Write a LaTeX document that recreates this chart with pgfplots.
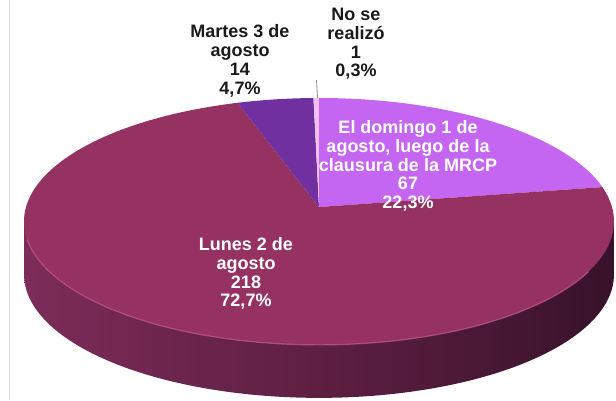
\documentclass[border=0pt]{standalone}
\usepackage{fontspec}
\setmainfont{Liberation Sans}
\usepackage{pgfplots}
\usepackage{pgfplotstable}
\pgfplotsset{compat=1.18}
\definecolor{cDom}{HTML}{C466F2}
\definecolor{cLun}{HTML}{963262}
\definecolor{cMar}{HTML}{7030A0}
\definecolor{cNo}{HTML}{F0C0F0}
\definecolor{sideL}{HTML}{7C2C58}
\definecolor{sideM}{HTML}{5E1F42}
\definecolor{sideR}{HTML}{38122A}
\definecolor{hl}{HTML}{C45C8E}
\definecolor{txt}{HTML}{1A1A1A}

\pgfplotstableread{
label value
Domingo 67
Lunes 218
Martes 14
NoSe 1
}\piedata

\begin{document}
\begin{tikzpicture}
\pgfplotstablegetelem{0}{value}\of\piedata \let\vA\pgfplotsretval
\pgfplotstablegetelem{1}{value}\of\piedata \let\vB\pgfplotsretval
\pgfplotstablegetelem{2}{value}\of\piedata \let\vC\pgfplotsretval
\pgfplotstablegetelem{3}{value}\of\piedata \let\vD\pgfplotsretval
\pgfmathsetmacro\tot{\vA+\vB+\vC+\vD}
\pgfmathsetmacro\aDom{90-360*(\vA/\tot)}
\pgfmathsetmacro\aLun{\aDom-360*(\vB/\tot)}
\pgfmathsetmacro\aMar{\aLun-360*(\vC/\tot)}
\pgfmathsetmacro\aEnd{\aMar-360*(\vD/\tot)}
% geometry (perspective ellipse)
\pgfmathsetmacro\pcx{319}
\pgfmathsetmacro\pcy{193}
\pgfmathsetmacro\pk{0.117}
\pgfmathsetmacro\pB{121.75}
\pgfmathsetmacro\pA{292.97}
\pgfmathsetmacro\pD{53}
\pgfmathsetmacro\tl{180+asin(\pk)}
\pgfmathsetmacro\tr{360-asin(\pk)}
\pgfmathsetmacro\xL{\pcx-\pA/sqrt(1-\pk*\pk)}
\pgfmathsetmacro\xR{\pcx+\pA/sqrt(1-\pk*\pk)}
\pgfmathsetmacro\yE{\pcy-\pB*\pk/(1-\pk*\pk)}
\begin{axis}[at={(0,0)}, anchor=south west, width=616pt, height=400pt,
  scale only axis, xmin=0, xmax=616, ymin=0, ymax=400, hide axis, clip=false]
% side wall
\addplot[draw=none, left color=sideL, right color=sideR, middle color=sideM,
  domain=\tl:\tr, samples=120, variable=\t]
  ({\pcx+\pA*cos(\t)/(1+\pk*sin(\t))}, {\pcy+\pB*sin(\t)/(1+\pk*sin(\t))-\pD})
  -- (axis cs:\xR,\yE) -- (axis cs:\xL,\yE) -- cycle;
% top slices
\addplot[draw=none, fill=cDom, domain=\aDom:90, samples=80, variable=\t]
  ({\pcx+\pA*cos(\t)/(1+\pk*sin(\t))}, {\pcy+\pB*sin(\t)/(1+\pk*sin(\t))})
  -- (axis cs:\pcx,\pcy) -- cycle;
\addplot[draw=none, fill=cLun, domain=\aLun:\aDom, samples=200, variable=\t]
  ({\pcx+\pA*cos(\t)/(1+\pk*sin(\t))}, {\pcy+\pB*sin(\t)/(1+\pk*sin(\t))})
  -- (axis cs:\pcx,\pcy) -- cycle;
\addplot[draw=none, fill=cMar, domain=\aMar:\aLun, samples=30, variable=\t]
  ({\pcx+\pA*cos(\t)/(1+\pk*sin(\t))}, {\pcy+\pB*sin(\t)/(1+\pk*sin(\t))})
  -- (axis cs:\pcx,\pcy) -- cycle;
\addplot[draw=none, fill=cNo, domain=\aEnd:\aMar, samples=5, variable=\t]
  ({\pcx+\pA*cos(\t)/(1+\pk*sin(\t))}, {\pcy+\pB*sin(\t)/(1+\pk*sin(\t))})
  -- (axis cs:\pcx,\pcy) -- cycle;
% highlight along the front rim
\addplot[draw=hl, line width=1.2pt, opacity=0.7, domain=195:330, samples=100, variable=\t]
  ({\pcx+\pA*cos(\t)/(1+\pk*sin(\t))}, {\pcy+\pB*sin(\t)/(1+\pk*sin(\t))});
% frame line and leader line
\addplot[draw=black!15, line width=1.5pt] coordinates {(9.5,0) (9.5,400)};
\addplot[draw=black!45, line width=0.8pt] coordinates {(316.5,320) (317.5,302)};
% labels
\node[font=\fontsize{18}{18.8}\selectfont\bfseries, align=center, text=white, inner sep=0pt]
  at (axis cs:408,234) {El domingo 1 de\\agosto, luego de la\\clausura de la MRCP\\67\\22,3\%};
\node[font=\fontsize{18}{18.8}\selectfont\bfseries, align=center, text=white, inner sep=0pt]
  at (axis cs:246,126.5) {Lunes 2 de\\agosto\\218\\72,7\%};
\node[font=\fontsize{18}{18.8}\selectfont\bfseries, align=center, text=txt, inner sep=0pt]
  at (axis cs:240,339) {Martes 3 de\\agosto\\14\\4,7\%};
\node[font=\fontsize{18}{18.8}\selectfont\bfseries, align=center, text=txt, inner sep=0pt]
  at (axis cs:356,356) {No se\\realizó\\1\\0,3\%};
\end{axis}
\pgfresetboundingbox
\useasboundingbox (0,0) rectangle (616pt,400pt);
\end{tikzpicture}
\end{document}
